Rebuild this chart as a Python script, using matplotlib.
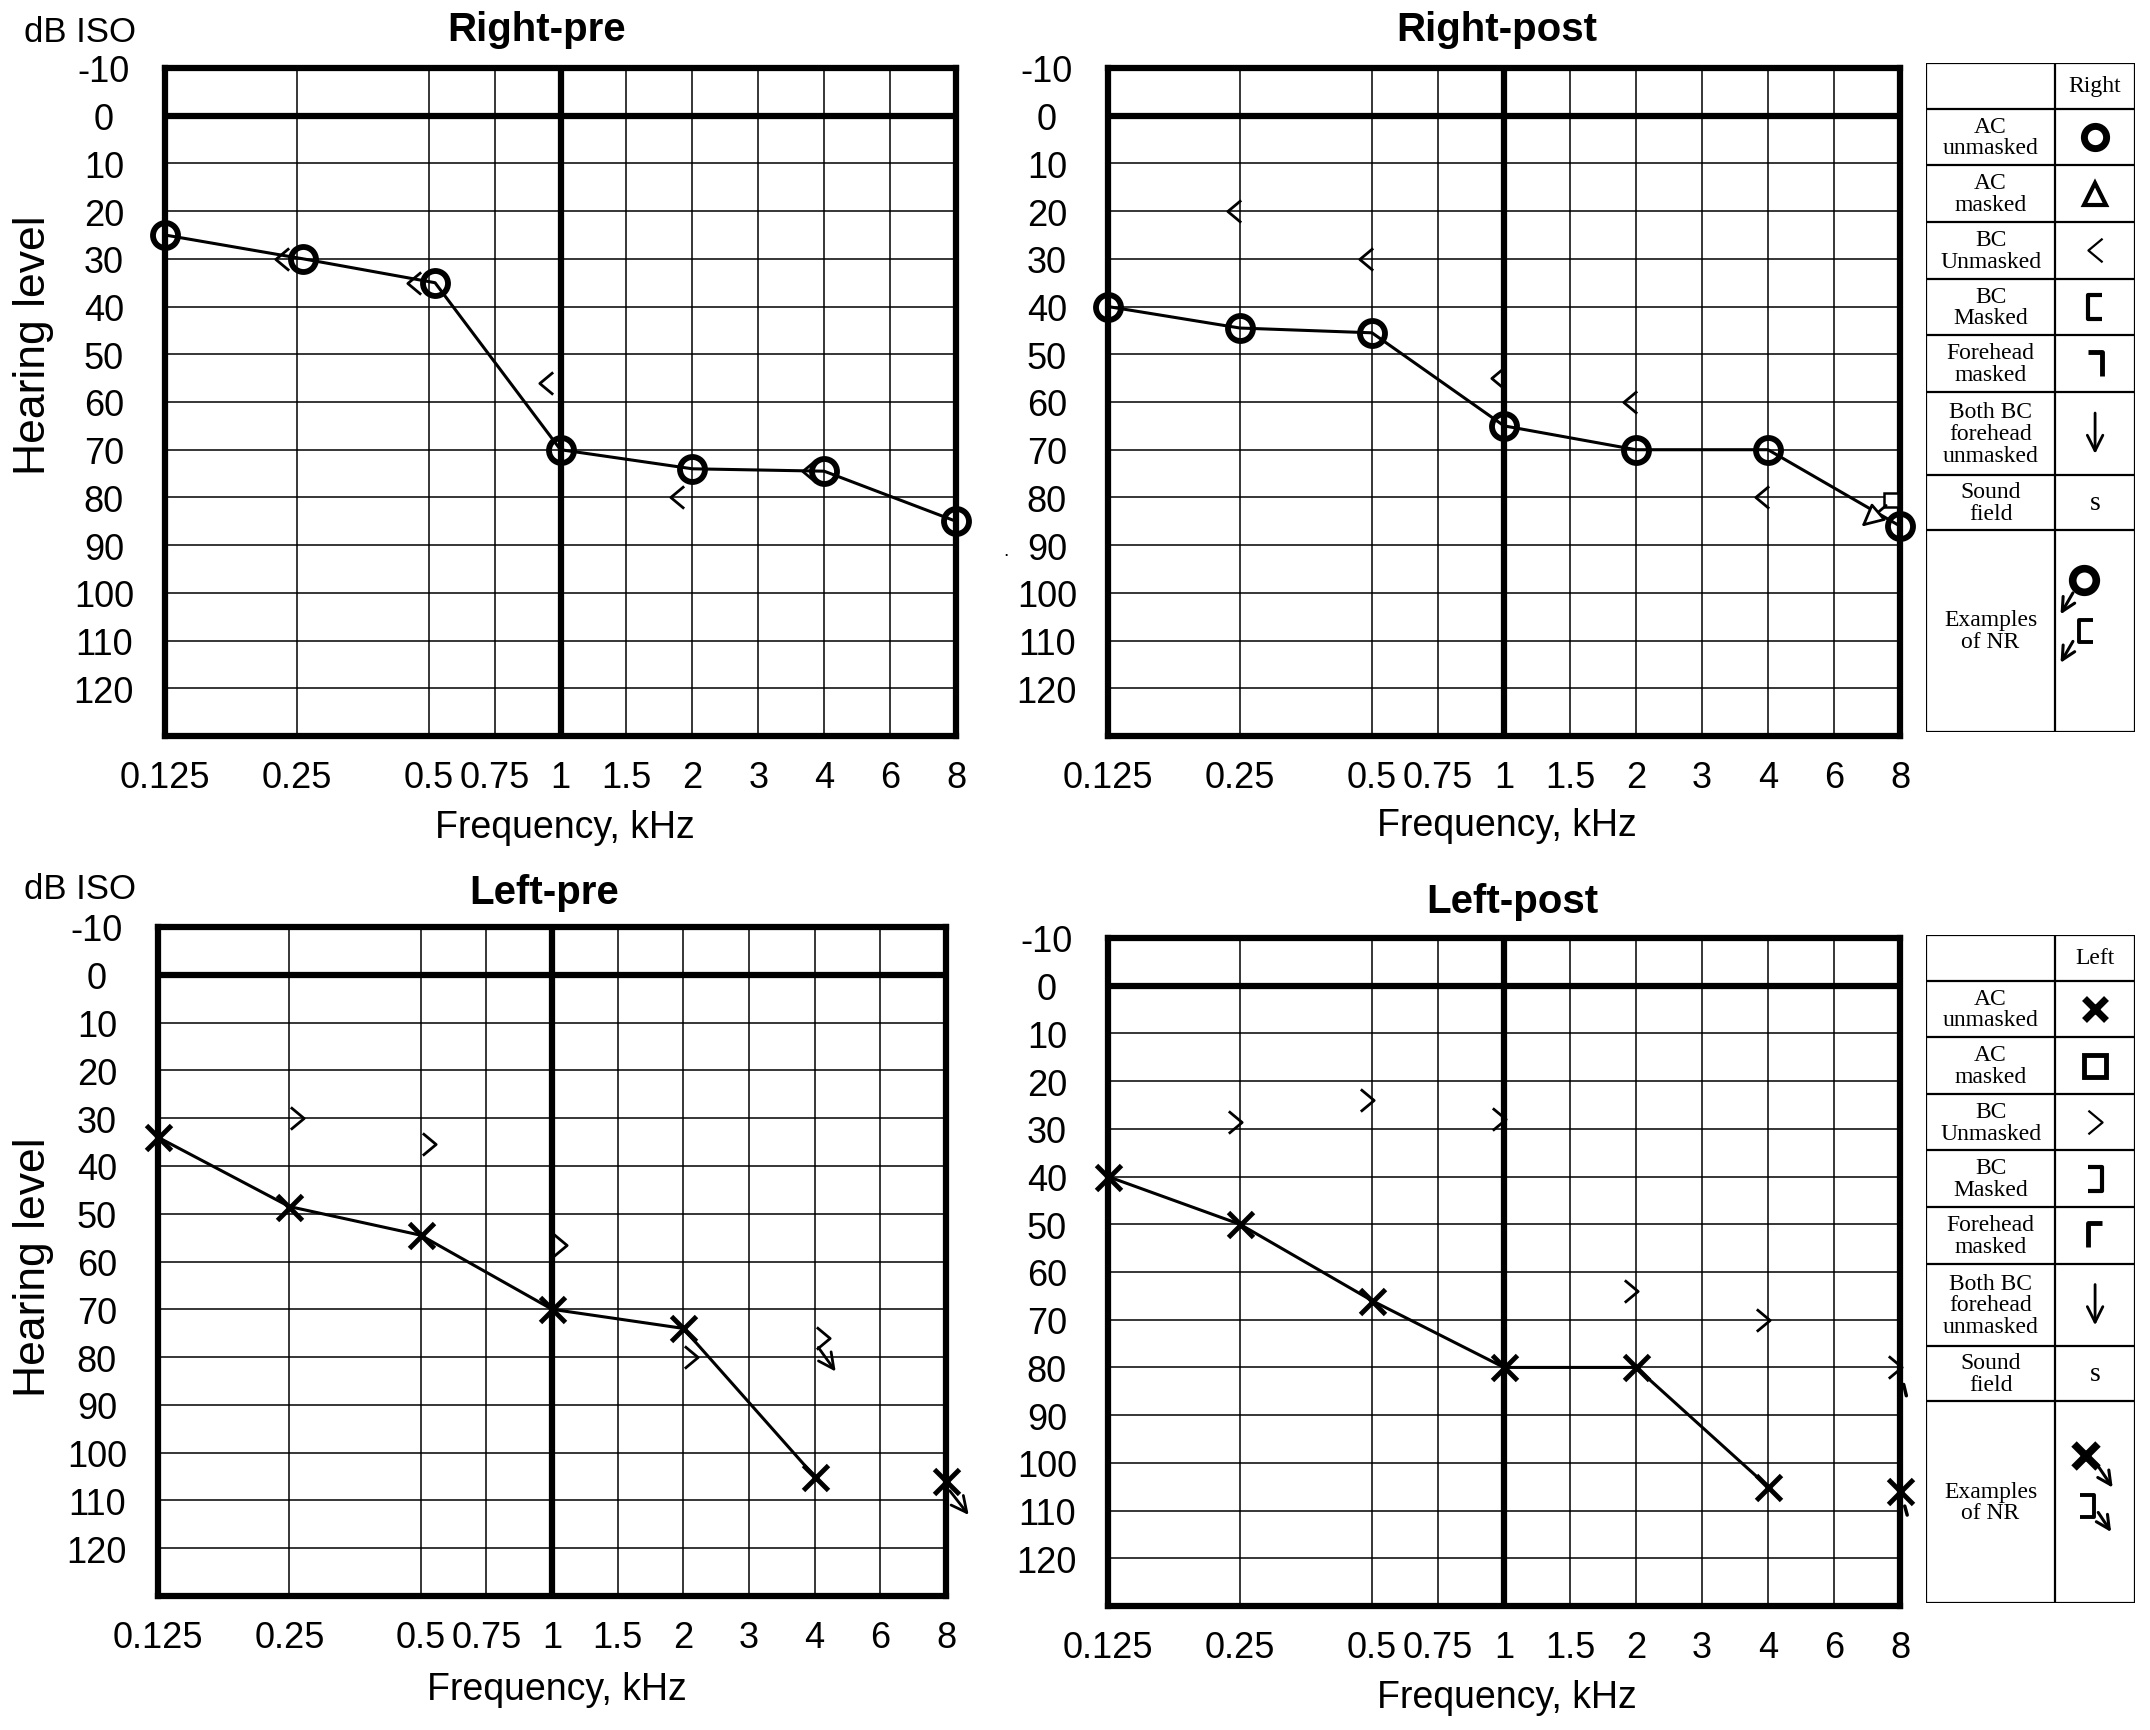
import numpy as np
import matplotlib
matplotlib.use("Agg")
import matplotlib.pyplot as plt
from matplotlib.path import Path
from matplotlib.transforms import offset_copy

plt.rcParams['font.family'] = ['Liberation Sans', 'DejaVu Sans']

# --- Daten ---
tick_freqs = [0.125, 0.25, 0.5, 0.75, 1, 1.5, 2, 3, 4, 6, 8]
tick_labels = ['0.125', '0.25', '0.5', '0.75', '1', '1.5', '2', '3', '4', '6', '8']
db_ticks = [-10, 0, 10, 20, 30, 40, 50, 60, 70, 80, 90, 100, 110, 120]

freq_ac = [0.125, 0.25, 0.5, 1, 2, 4, 8]
freq_bc = [0.25, 0.5, 1, 2, 4]

right_pre_ac_freq = [0.125, 0.26, 0.52, 1, 2, 4, 8]
right_pre_ac = [25, 30, 35, 70, 74, 74.5, 85]
right_pre_bc = [30, 35, 56, 80, 74.5]

right_post_ac = [40, 44.5, 45.5, 65, 70, 70, 86]
right_post_bc = [20, 30, 55, 60, 80]
right_post_bcm_freq = [8]
right_post_bcm = [80.5]
right_post_nr_arrow = [(7.6, 81.3), (6.7, 86.5)]

left_pre_ac = [34, 48.5, 54.5, 70, 74, 105, 106]
left_pre_bc = [30, 35.5, 56.5, 80, 76]
left_pre_nr_arrows = [[(4.05, 77.5), (4.6, 83.5)], [(8.1, 107.5), (9.3, 113.5)]]

left_post_ac = [40, 50, 66, 80, 80, 105, 106]
left_post_bc_freq = [0.25, 0.5, 1, 2, 4, 8]
left_post_bc = [28.5, 24, 28, 64, 70, 80]
left_post_nr_ticks = [[(8.15, 83), (8.35, 86.5)], [(8.2, 108.5), (8.4, 111.5)]]

legend_rows = ["AC\nunmasked", "AC\nmasked", "BC\nUnmasked", "BC\nMasked",
               "Forehead\nmasked", "Both BC\nforehead\nunmasked", "Sound\nfield",
               "Examples\nof NR"]
row_heights = [105, 130, 130, 130, 130, 130, 190, 126, 464]


# --- Audiogramm-Skala: Oktaven gleichmaessig, Zwischenfrequenzen in der Mitte ---
MID = np.log2(1.5)


def freq_to_pos(f):
    f = np.asarray(f, dtype=float)
    p = np.log2(np.clip(f, 1e-6, None) / 0.125)
    k = np.floor(p)
    fr = p - k
    g = np.where(fr < MID, fr / MID * 0.5, 0.5 + (fr - MID) / (1 - MID) * 0.5)
    return k + g


def pos_to_freq(x):
    x = np.asarray(x, dtype=float)
    k = np.floor(x)
    g = x - k
    fr = np.where(g < 0.5, g * 2 * MID, MID + (g - 0.5) * 2 * (1 - MID))
    return 0.125 * 2 ** (k + fr)


# Marker-Formen
chev_left = Path([(0.6, 1), (-0.6, 0), (0.6, -1)], [Path.MOVETO, Path.LINETO, Path.LINETO])
chev_right = Path([(-0.6, 1), (0.6, 0), (-0.6, -1)], [Path.MOVETO, Path.LINETO, Path.LINETO])
brk_right = Path([(0.6, 1), (-0.6, 1), (-0.6, -1), (0.6, -1)],
                 [Path.MOVETO, Path.LINETO, Path.LINETO, Path.LINETO])
brk_left = Path([(-0.6, 1), (0.6, 1), (0.6, -1), (-0.6, -1)],
                [Path.MOVETO, Path.LINETO, Path.LINETO, Path.LINETO])
fh_right = Path([(-0.6, 1), (0.6, 1), (0.6, -1)], [Path.MOVETO, Path.LINETO, Path.LINETO])
fh_left = Path([(0.6, 1), (-0.6, 1), (-0.6, -1)], [Path.MOVETO, Path.LINETO, Path.LINETO])

W, H = 2150, 1731
fig = plt.figure(figsize=(W / 100, H / 100), dpi=100)


def px_axes(x0, y0, x1, y1):
    return fig.add_axes([x0 / W, 1 - y1 / H, (x1 - x0) / W, (y1 - y0) / H])


def setup(ax):
    ax.set_xscale('function', functions=(freq_to_pos, pos_to_freq))
    ax.set_xlim(0.125, 8)
    ax.set_ylim(130, -10)
    ax.set_xticks(tick_freqs)
    ax.set_xticklabels(tick_labels)
    ax.xaxis.set_minor_locator(matplotlib.ticker.NullLocator())
    ax.set_yticks(db_ticks)
    ax.set_yticklabels([str(d) for d in db_ticks])
    ax.tick_params(length=0, labelsize=26)
    ax.tick_params(axis='y', pad=44)
    ax.tick_params(axis='x', pad=17)
    for lbl in ax.get_yticklabels():
        lbl.set_horizontalalignment('center')
    for f in tick_freqs:
        ax.axvline(f, color='black', lw=4.5 if f == 1 else 1.1, zorder=1)
    for d in db_ticks:
        ax.axhline(d, color='black', lw=4.5 if d == 0 else 1.1, zorder=1)
    for s in ax.spines.values():
        s.set_linewidth(4.5)
        s.set_zorder(2)


def shifted(ax, dx):
    return offset_copy(ax.transData, fig=fig, x=dx, y=0, units='dots')


circ = dict(ls='none', marker='o', ms=18, mfc='none', mec='black', mew=4.2, clip_on=False, zorder=4)
cross = dict(ls='none', marker='x', ms=18, mec='black', mew=3.5, clip_on=False, zorder=4)
chev = dict(ls='none', ms=16, mfc='none', mec='black', mew=2, clip_on=False, zorder=4)

# --- Right-pre ---
ax1 = px_axes(165, 69, 956, 737)
setup(ax1)
ax1.plot(right_pre_ac_freq, right_pre_ac, color='black', lw=2.2, zorder=3)
ax1.plot(right_pre_ac_freq, right_pre_ac, **circ)
ax1.plot(freq_bc, right_pre_bc, marker=chev_left, transform=shifted(ax1, -15), **chev)

# --- Right-post ---
ax2 = px_axes(1108, 69, 1900, 737)
setup(ax2)
ax2.plot(freq_ac, right_post_ac, color='black', lw=2.2, zorder=3)
ax2.plot(freq_ac, right_post_ac, **circ)
ax2.plot(freq_bc, right_post_bc, marker=chev_left, transform=shifted(ax2, -6), **chev)
ax2.plot(right_post_bcm_freq, right_post_bcm, ls='none', marker='s', ms=10, mfc='white',
         mec='black', mew=1.8, transform=shifted(ax2, -9), clip_on=False, zorder=4)
ax2.annotate('', xy=right_post_nr_arrow[1], xytext=right_post_nr_arrow[0],
             arrowprops=dict(arrowstyle='-|>', fc='white', ec='black', lw=2,
                             mutation_scale=34), zorder=5)

# --- Left-pre ---
ax3 = px_axes(158, 928, 946, 1597)
setup(ax3)
ax3.plot(freq_ac[:-1], left_pre_ac[:-1], color='black', lw=2.2, zorder=3)
ax3.plot(freq_ac, left_pre_ac, **cross)
ax3.plot(freq_bc, left_pre_bc, marker=chev_right, transform=shifted(ax3, 8), **chev)
for tail, tip in left_pre_nr_arrows:
    ax3.annotate('', xy=tip, xytext=tail, annotation_clip=False,
                 arrowprops=dict(arrowstyle='->', color='black', lw=2, mutation_scale=28),
                 zorder=5)

# --- Left-post ---
ax4 = px_axes(1108, 939, 1900, 1607)
setup(ax4)
ax4.plot(freq_ac[:-1], left_post_ac[:-1], color='black', lw=2.2, zorder=3)
ax4.plot(freq_ac, left_post_ac, **cross)
ax4.plot(left_post_bc_freq, left_post_bc, marker=chev_right, transform=shifted(ax4, -5), **chev)
for a, b in left_post_nr_ticks:
    ax4.annotate('', xy=b, xytext=a, annotation_clip=False,
                 arrowprops=dict(arrowstyle='-', color='black', lw=2.5), zorder=5)

# --- Beschriftungen ---
title_kw = dict(fontsize=29, fontweight='bold', ha='center', va='center')
fig.text(537 / W, 1 - 30 / H, 'Right-pre', **title_kw)
fig.text(1497 / W, 1 - 30 / H, 'Right-post', **title_kw)
fig.text(544 / W, 1 - 893 / H, 'Left-pre', **title_kw)
fig.text(1512 / W, 1 - 902 / H, 'Left-post', **title_kw)

lab_kw = dict(fontsize=27, ha='center', va='center')
fig.text(565 / W, 1 - 828 / H, 'Frequency, kHz', **lab_kw)
fig.text(1507 / W, 1 - 826 / H, 'Frequency, kHz', **lab_kw)
fig.text(557 / W, 1 - 1690 / H, 'Frequency, kHz', **lab_kw)
fig.text(1507 / W, 1 - 1698 / H, 'Frequency, kHz', **lab_kw)

fig.text(34 / W, 1 - 345 / H, 'Hearing level', rotation=90, fontsize=32, ha='center', va='center')
fig.text(34 / W, 1 - 1267 / H, 'Hearing level', rotation=90, fontsize=32, ha='center', va='center')
fig.text(80 / W, 1 - 32 / H, 'dB ISO', fontsize=25, ha='center', va='center')
fig.text(80 / W, 1 - 890 / H, 'dB ISO', fontsize=25, ha='center', va='center')
fig.text(1006 / W, 1 - 551 / H, '.', fontsize=14, ha='center', va='center')


# --- Legendentabellen ---
def legend_table(ax, side):
    total = sum(row_heights)
    split = 0.618
    ax.set_xlim(0, 1)
    ax.set_ylim(total, 0)
    ax.axis('off')
    edges = np.concatenate([[0], np.cumsum(row_heights)])
    lkw = dict(color='black', lw=1.6, solid_capstyle='butt')
    for e in edges:
        ax.plot([0, 1], [e, e], **lkw)
    ax.plot([0, 0], [0, total], **lkw)
    ax.plot([1, 1], [0, total], **lkw)
    ax.plot([split, split], [0, total], **lkw)
    serif = dict(family=['Liberation Serif', 'DejaVu Serif'], fontsize=17, ha='center',
                 va='center', linespacing=1.05)
    cx = (split + 1) / 2
    ax.text(cx, (edges[0] + edges[1]) / 2, side, **serif)
    centers = [(edges[i] + edges[i + 1]) / 2 for i in range(1, len(edges) - 1)]
    for lab, yc in zip(legend_rows, centers):
        ax.text(split / 2, yc, lab, **serif)
    mk = dict(ls='none', mfc='none', mec='black', clip_on=False)
    if side == 'Right':
        ax.plot(cx, centers[0], marker='o', ms=16, mew=5, **mk)
        ax.plot(cx, centers[1], marker='^', ms=16, mew=3, **mk)
        ax.plot(cx, centers[2], marker=chev_left, ms=17, mew=1.6, **mk)
        ax.plot(cx, centers[3], marker=brk_right, ms=17, mew=3, **mk)
        ax.plot(cx, centers[4], marker=fh_right, ms=17, mew=3.5, **mk)
    else:
        ax.plot(cx, centers[0], marker='x', ms=16, mew=5, **mk)
        ax.plot(cx, centers[1], marker='s', ms=16, mew=3.5, **mk)
        ax.plot(cx, centers[2], marker=chev_right, ms=17, mew=1.6, **mk)
        ax.plot(cx, centers[3], marker=brk_left, ms=17, mew=3, **mk)
        ax.plot(cx, centers[4], marker=fh_left, ms=17, mew=3.5, **mk)
    h6 = row_heights[6]
    ax.annotate('', xy=(cx, centers[5] + 0.28 * h6), xytext=(cx, centers[5] - 0.28 * h6),
                arrowprops=dict(arrowstyle='->', color='black', lw=2, mutation_scale=28))
    ax.text(cx, centers[6], 's', **dict(serif, fontsize=20))
    top = edges[8]
    h = row_heights[8]
    col_w = 1 - split
    if side == 'Right':
        ax.plot(split + 0.36 * col_w, top + 0.25 * h, marker='o', ms=17, mew=5.5, **mk)
        ax.plot(split + 0.38 * col_w, top + 0.50 * h, marker=brk_right, ms=16, mew=2.8, **mk)
        arrows = [((0.24, 0.30), (0.05, 0.43)), ((0.24, 0.54), (0.05, 0.67))]
    else:
        ax.plot(split + 0.38 * col_w, top + 0.27 * h, marker='x', ms=17, mew=5.5, **mk)
        ax.plot(split + 0.40 * col_w, top + 0.52 * h, marker=brk_left, ms=16, mew=2.8, **mk)
        arrows = [((0.50, 0.30), (0.74, 0.44)), ((0.52, 0.54), (0.72, 0.66))]
    for (x0, y0), (x1, y1) in arrows:
        ax.annotate('', xy=(split + x1 * col_w, top + y1 * h),
                    xytext=(split + x0 * col_w, top + y0 * h),
                    arrowprops=dict(arrowstyle='->', color='black', lw=2.2, mutation_scale=24))


legR = px_axes(1926, 64, 2135, 733)
legend_table(legR, 'Right')
legL = px_axes(1926, 936, 2135, 1604)
legend_table(legL, 'Left')

fig.savefig('out.png', dpi=100, facecolor='white')
